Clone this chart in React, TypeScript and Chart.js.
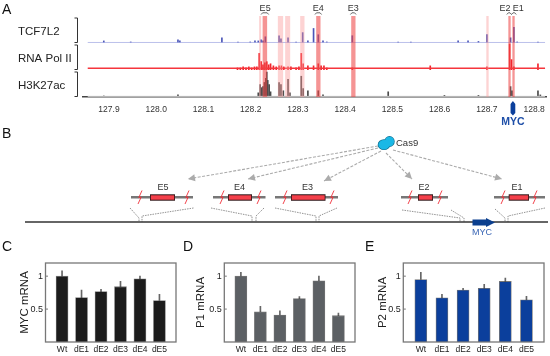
import React, { useEffect, useRef } from "react";
import { Chart, registerables } from "chart.js";

Chart.register(...registerables);

const FONT = '"Liberation Sans", Arial, sans-serif';

// ---- Panel A: genome tracks (position in Mb, signal in arbitrary units)
const genomeTicks = [127.9, 128.0, 128.1, 128.2, 128.3, 128.4, 128.5, 128.6, 128.7, 128.8];
const tcfPos = [127.889, 127.946, 128.046, 128.05, 128.139, 128.173, 128.199, 128.209, 128.216, 128.222, 128.226, 128.231, 128.26, 128.264, 128.279, 128.296, 128.31, 128.321, 128.333, 128.343, 128.353, 128.361, 128.415, 128.512, 128.539, 128.639, 128.66, 128.682, 128.7, 128.75, 128.757, 128.764, 128.808];
const tcfVal = [2, 1, 3, 2, 5, 1, 1, 2, 2, 3, 2, 6, 7, 4, 5, 1, 10, 2, 14, 8, 2, 1, 7, 1, 1, 2, 2, 1.5, 8, 5, 15, 1, 1];
const polPos = [128.172, 128.178, 128.184, 128.19, 128.196, 128.202, 128.208, 128.213, 128.218, 128.222, 128.226, 128.23, 128.234, 128.238, 128.242, 128.248, 128.254, 128.26, 128.265, 128.27, 128.279, 128.285, 128.296, 128.302, 128.307, 128.311, 128.321, 128.333, 128.343, 128.349, 128.355, 128.361, 128.415, 128.58, 128.7, 128.748, 128.752, 128.757, 128.808];
const polVal = [2, 2, 3, 2, 3, 2, 3, 3, 16, 8, 5, 7, 8, 5, 6, 4, 3, 4, 4, 3, 3, 3, 2, 3, 16, 6, 4, 4, 6, 4, 4, 2, 2, 4, 3, 25, 10, 3, 6];
const acPos = [127.889, 128.046, 128.216, 128.22, 128.223, 128.226, 128.229, 128.232, 128.234, 128.236, 128.239, 128.242, 128.26, 128.264, 128.269, 128.279, 128.283, 128.307, 128.311, 128.321, 128.343, 128.353, 128.491, 128.61, 128.682, 128.75, 128.753, 128.808, 128.813];
const acVal = [1, 2, 4, 12, 9, 10, 14, 18, 24, 16, 12, 5, 14, 12, 6, 17, 4, 20, 8, 6, 6, 2, 5, 1.5, 1.5, 10, 6, 6, 2];
const lightShades = [[128.2178, 128.222], [128.2574, 128.2686], [128.2729, 128.2835], [128.3047, 128.3138], [128.6987, 128.7036]];
const strongShades = [[128.2252, 128.2347], [128.3386, 128.3477], [128.4127, 128.4218], [128.7453, 128.7502], [128.7538, 128.7587]];
const exonNames = ["E5", "E4", "E3", "E2", "E1"];
const exonLabelPos = [128.2305, 128.343, 128.417, 128.738, 128.7665];
const exonBrackets = [[128.222, 128.238], [128.336, 128.35], [128.411, 128.423], [128.742, 128.752], [128.752, 128.762]];
const trackNames = ["TCF7L2", "RNA Pol II", "H3K27ac"];
const mycGene = [128.75, 128.76];

// ---- Panel B: schematic, in figure units
const fragmentNames = ["E5", "E4", "E3", "E2", "E1"];
const fragmentLines = [[131, 193], [213, 265.5], [275, 338], [401, 448], [494, 545]];
const fragmentBoxes = [[150, 175], [228, 252], [291, 325.5], [418, 433], [508.7, 529]];
const fragmentLabelX = [163, 239.5, 307.5, 424, 517];
const cutSites = [140, 187, 222, 259, 285, 332, 410, 440, 503, 535];
const locusLine = [[25, 222], [548, 222]];
const zoomGuides = [
  [[130, 208], [139, 218], [139, 222]], [[193.5, 208], [142, 216], [142, 222]],
  [[211, 208], [252, 216], [252, 222]], [[264, 208], [256, 216], [256, 222]],
  [[275, 208], [316, 216], [316, 222]], [[337, 208], [319, 216], [319, 222]],
  [[402, 210], [460, 218], [460, 222]], [[451, 210], [464, 218], [464, 222]],
  [[495, 209], [505, 218], [505, 222]], [[545, 208], [508, 216], [508, 222]],
];
const cas9Arrows = [
  [[378, 146], [188, 179]], [[378, 148], [248, 179]], [[381, 151], [324, 181]],
  [[386, 153], [412, 179]], [[393, 150], [502, 179]],
];

// ---- Panels C, D, E
const conditions = ["Wt", "dE1", "dE2", "dE3", "dE4", "dE5"];
const conditionSlots = [1, 2, 3, 4, 5, 6];
const yTickValues = [0.5, 1];
const mycMrna = [1.0, 0.675, 0.765, 0.84, 0.96, 0.63];
const mycTop = [1.08, 0.79, 0.8, 0.92, 1.0, 0.725];
const p1Mrna = [1.0, 0.46, 0.41, 0.66, 0.93, 0.4];
const p1Top = [1.06, 0.54, 0.475, 0.69, 1.0, 0.44];
const p2Mrna = [0.95, 0.67, 0.79, 0.815, 0.92, 0.64];
const p2Top = [1.06, 0.725, 0.815, 0.875, 0.97, 0.695];

const toXY = (xs: number[], ys: number[]) => xs.map((x, i) => ({ x, y: ys[i] }));
const toPts = (pts: number[][]) => pts.map(([x, y]) => ({ x, y }));

function hiddenAxis(extra: any) {
  return {
    display: true,
    ticks: { display: false },
    grid: { display: false, drawTicks: false },
    border: { display: false },
    ...extra,
  };
}

function createA(canvas: HTMLCanvasElement) {
  const X0 = 127.845, X1 = 128.825;
  const trackPlugin = {
    id: "tracks",
    afterDatasetsDraw(chart: any) {
      const { ctx, chartArea, scales } = chart;
      const x = scales.x;
      ctx.save();
      const shade = (list: number[][], color: string) => {
        ctx.fillStyle = color;
        list.forEach(([a, b]) => {
          const l = x.getPixelForValue(a), r = x.getPixelForValue(b);
          ctx.fillRect(l, chartArea.top, r - l, chartArea.bottom - chartArea.top);
        });
      };
      shade(lightShades, "rgba(250,150,150,0.42)");
      shade(strongShades, "rgba(238,70,70,0.58)");
      ctx.restore();
    },
    afterDraw(chart: any) {
      const { ctx, scales } = chart;
      const x = scales.x;
      ctx.save();
      // Track names and brackets
      ["tcf", "pol", "ac"].forEach((id, i) => {
        const s = scales[id];
        ctx.fillStyle = "#222";
        ctx.font = `11.5px ${FONT}`;
        ctx.textAlign = "left";
        ctx.textBaseline = "middle";
        ctx.fillText(trackNames[i], 18, (s.top + s.bottom) / 2 + 2);
        ctx.strokeStyle = "#333";
        ctx.lineWidth = 1;
        ctx.beginPath();
        ctx.moveTo(74.5, s.top + 2);
        ctx.lineTo(77.5, s.top + 2);
        ctx.lineTo(77.5, s.bottom - 0.5);
        ctx.lineTo(74.5, s.bottom - 0.5);
        ctx.stroke();
      });
      // Enhancer labels and brackets
      ctx.font = `9px ${FONT}`;
      ctx.textAlign = "center";
      ctx.fillStyle = "#333";
      exonNames.forEach((n, i) => {
        ctx.fillText(n, x.getPixelForValue(exonLabelPos[i]), 9);
        const l = x.getPixelForValue(exonBrackets[i][0]);
        const r = x.getPixelForValue(exonBrackets[i][1]);
        ctx.strokeStyle = "#444";
        ctx.lineWidth = 0.8;
        ctx.beginPath();
        ctx.moveTo(l, 14.5);
        ctx.lineTo(l + 1.5, 12.8);
        ctx.lineTo(r - 1.5, 12.8);
        ctx.lineTo(r, 14.5);
        ctx.stroke();
      });
      // MYC gene
      const gl = x.getPixelForValue(mycGene[0]), gr = x.getPixelForValue(mycGene[1]);
      ctx.fillStyle = "#0b3f9c";
      ctx.beginPath();
      ctx.moveTo((gl + gr) / 2, 101);
      ctx.lineTo(gr, 104);
      ctx.lineTo(gr, 113);
      ctx.lineTo((gl + gr) / 2, 115.5);
      ctx.lineTo(gl, 113);
      ctx.lineTo(gl, 104);
      ctx.closePath();
      ctx.fill();
      ctx.font = `bold 10.5px ${FONT}`;
      ctx.fillStyle = "#1f4fa8";
      ctx.fillText("MYC", (gl + gr) / 2, 122);
      ctx.restore();
    },
  };
  const bars = (data: any[], id: string, color: string) => ({
    type: "bar", data, yAxisID: id, backgroundColor: color, barThickness: 1, grouped: false, borderWidth: 0,
  });
  const floor = (id: string, y: number, color: string, w: number) => ({
    type: "line", data: [{ x: X0 + 0.01, y }, { x: X1 - 0.002, y }], yAxisID: id, borderColor: color, borderWidth: w, pointRadius: 0,
  });
  return new Chart(canvas, {
    type: "bar",
    data: {
      datasets: [
        floor("tcf", 0.5, "#a9b0e6", 0.8),
        bars(toXY(tcfPos, tcfVal), "tcf", "#4a55b8"),
        floor("pol", 1.6, "#f5353c", 1.5),
        bars(toXY(polPos, polVal), "pol", "#f2252c"),
        floor("ac", 0.6, "#c6c6c6", 1),
        bars(toXY(acPos, acVal), "ac", "#4a4a4a"),
      ] as any,
    },
    options: {
      animation: false, responsive: false, maintainAspectRatio: false,
      layout: { padding: { left: 83, right: 4, top: 16, bottom: 0 } },
      plugins: { legend: { display: false }, tooltip: { enabled: false } },
      scales: {
        x: {
          type: "linear", min: X0, max: X1, offset: false,
          grid: { display: false, drawTicks: false },
          border: { color: "#444", width: 1.5 },
          afterFit: (s: any) => { s.height = 31; s.paddingLeft = 0; s.paddingRight = 0; },
          afterBuildTicks: (s: any) => { s.ticks = genomeTicks.map((value) => ({ value })); },
          ticks: {
            autoSkip: false, maxRotation: 0, padding: 8, color: "#333",
            font: { size: 8.5, family: FONT },
            callback: (v: any) => Number(v).toFixed(1),
          },
        },
        ac: hiddenAxis({ stack: "tracks", stackWeight: 1, min: 0, max: 26, weight: 1 }),
        pol: hiddenAxis({ stack: "tracks", stackWeight: 1, min: 0, max: 26, weight: 2 }),
        tcf: hiddenAxis({ stack: "tracks", stackWeight: 1, min: 0, max: 26, weight: 3 }),
      } as any,
    },
    plugins: [trackPlugin],
  } as any);
}

function createB(canvas: HTMLCanvasElement) {
  const schematic = {
    id: "schematic",
    afterDraw(chart: any) {
      const { ctx, scales } = chart;
      const px = (v: number) => scales.x.getPixelForValue(v);
      const py = (v: number) => scales.y.getPixelForValue(v);
      ctx.save();
      // Labels over fragments
      ctx.font = `9px ${FONT}`;
      ctx.textAlign = "center";
      ctx.textBaseline = "middle";
      ctx.fillStyle = "#333";
      fragmentNames.forEach((n, i) => ctx.fillText(n, px(fragmentLabelX[i]), py(188)));
      // Cut sites
      ctx.strokeStyle = "#f0303a";
      ctx.lineWidth = 0.9;
      cutSites.forEach((c) => {
        ctx.beginPath();
        ctx.moveTo(px(c + 2), py(190.5));
        ctx.lineTo(px(c - 1.2), py(197.6));
        ctx.lineTo(px(c + 1.2), py(197));
        ctx.lineTo(px(c - 2), py(204));
        ctx.stroke();
      });
      // Arrow heads of the Cas9 guides
      ctx.fillStyle = "#ababab";
      cas9Arrows.forEach(([a, b]) => {
        const ang = Math.atan2(py(b[1]) - py(a[1]), px(b[0]) - px(a[0]));
        ctx.save();
        ctx.translate(px(b[0]), py(b[1]));
        ctx.rotate(ang);
        ctx.beginPath();
        ctx.moveTo(0, 0);
        ctx.lineTo(-7, 3.5);
        ctx.lineTo(-7, -3.5);
        ctx.closePath();
        ctx.fill();
        ctx.restore();
      });
      // Cas9
      const blob = () => {
        ctx.beginPath();
        ctx.ellipse(px(384), py(144.7), 5.6, 4.7, 0, 0, Math.PI * 2);
        ctx.moveTo(px(394), py(141.5));
        ctx.ellipse(px(389.5), py(141.5), 4.5, 4.8, 0, 0, Math.PI * 2);
      };
      blob();
      ctx.strokeStyle = "#0b6f92";
      ctx.lineWidth = 1.4;
      ctx.stroke();
      blob();
      ctx.fillStyle = "#1ab8e6";
      ctx.fill();
      ctx.fillStyle = "#333";
      ctx.font = `9.5px ${FONT}`;
      ctx.textAlign = "left";
      ctx.fillText("Cas9", px(396), py(143));
      // MYC arrow on the locus
      ctx.fillStyle = "#0b3f8f";
      ctx.beginPath();
      ctx.moveTo(px(472.5), py(219.5));
      ctx.lineTo(px(486), py(219.5));
      ctx.lineTo(px(486), py(218));
      ctx.lineTo(px(495), py(222.5));
      ctx.lineTo(px(486), py(227));
      ctx.lineTo(px(486), py(225.5));
      ctx.lineTo(px(472.5), py(225.5));
      ctx.closePath();
      ctx.fill();
      ctx.fillStyle = "#3a66b5";
      ctx.font = `9px ${FONT}`;
      ctx.textAlign = "center";
      ctx.fillText("MYC", px(482), py(233));
      ctx.restore();
    },
  };
  const line = (pts: number[][], color: string, w: number, dash: number[] = [], order = 5) => ({
    type: "line", data: toPts(pts), borderColor: color, borderWidth: w, borderDash: dash, pointRadius: 0, showLine: true, tension: 0, order,
  });
  const datasets: any[] = [];
  datasets.push(line(locusLine, "#333", 1.5));
  zoomGuides.forEach((g) => datasets.push(line(g, "#777", 0.8, [1.5, 1])));
  cas9Arrows.forEach((a) => datasets.push(line(a, "#ababab", 1.1, [3, 1.5])));
  fragmentLines.forEach(([a, b]) => datasets.push(line([[a, 197.3], [b, 197.3]], "#777", 2.6, [], 4)));
  fragmentBoxes.forEach(([a, b]) => {
    datasets.push(line([[a, 197.5], [b, 197.5]], "#2b1214", 6.4, [], 2));
    datasets.push(line([[a + 0.8, 197.5], [b - 0.8, 197.5]], "#f4404a", 4.4, [], 1));
  });
  return new Chart(canvas, {
    type: "scatter",
    data: { datasets },
    options: {
      animation: false, responsive: false, maintainAspectRatio: false,
      layout: { padding: 0 },
      plugins: { legend: { display: false }, tooltip: { enabled: false } },
      scales: {
        x: { type: "linear", min: 0, max: 550, display: false },
        y: { type: "linear", min: 128, max: 240, reverse: true, display: false },
      },
    },
    plugins: [schematic],
  } as any);
}

function createBars(canvas: HTMLCanvasElement, title: string, values: number[], tops: number[], color: string, left: number, titleOffset: number, slotSpan: number[]) {
  const framePlugin = {
    id: "frame",
    afterDraw(chart: any) {
      const { ctx, chartArea: a, scales } = chart;
      ctx.save();
      ctx.strokeStyle = "#777";
      ctx.lineWidth = 1.3;
      ctx.strokeRect(a.left, a.top, a.right - a.left, a.bottom - a.top);
      ctx.lineWidth = 1;
      yTickValues.forEach((v) => {
        const y = scales.y.getPixelForValue(v);
        ctx.beginPath();
        ctx.moveTo(a.left, y);
        ctx.lineTo(a.left + 2.5, y);
        ctx.stroke();
      });
      ctx.restore();
    },
  };
  return new Chart(canvas, {
    type: "bar",
    data: {
      datasets: [
        {
          data: conditionSlots.map((x, i) => ({ x, y: [values[i], tops[i]] })),
          backgroundColor: "#666", barThickness: 1, grouped: false, order: 2,
        },
        {
          data: toXY(conditionSlots, values),
          backgroundColor: color, borderColor: "rgba(60,60,60,0.7)", borderWidth: 0.8, barThickness: 12, grouped: false, order: 1,
        },
      ],
    },
    options: {
      animation: false, responsive: false, maintainAspectRatio: false,
      layout: { padding: { left: 0, right: 6, top: 23, bottom: 0 } },
      plugins: { legend: { display: false }, tooltip: { enabled: false } },
      scales: {
        x: {
          type: "linear", min: slotSpan[0], max: slotSpan[1], offset: false,
          grid: { display: false, drawTicks: false },
          border: { display: false },
          afterFit: (s: any) => { s.height = 14; },
          afterBuildTicks: (s: any) => { s.ticks = conditionSlots.map((value) => ({ value })); },
          ticks: {
            autoSkip: false, maxRotation: 0, padding: 3, color: "#222",
            font: { size: 8.5, family: FONT },
            callback: (v: any) => conditions[Number(v) - 1],
          },
        },
        y: {
          min: 0, max: 1.2,
          grid: { display: false, drawTicks: false },
          border: { display: false },
          afterFit: (s: any) => { s.width = left; },
          afterBuildTicks: (s: any) => { s.ticks = yTickValues.map((value) => ({ value })); },
          ticks: {
            padding: 2.5, color: "#222",
            font: { size: 9, family: FONT },
            callback: (v: any) => String(v),
          },
          title: {
            display: true, text: title, color: "#222",
            font: { size: 11.5, family: FONT },
            padding: { top: titleOffset, bottom: 0 },
          },
        },
      } as any,
    },
    plugins: [framePlugin],
  } as any);
}

const panelLetters = [
  { text: "A", left: 2, top: 1 },
  { text: "B", left: 2, top: 125 },
  { text: "C", left: 2, top: 238 },
  { text: "D", left: 183, top: 238 },
  { text: "E", left: 365, top: 238 },
];

const boxStyle = (l: number, t: number): React.CSSProperties => ({ position: "absolute", left: l, top: t, display: "block" });

export default function App() {
  const aRef = useRef<HTMLCanvasElement>(null);
  const bRef = useRef<HTMLCanvasElement>(null);
  const cRef = useRef<HTMLCanvasElement>(null);
  const dRef = useRef<HTMLCanvasElement>(null);
  const eRef = useRef<HTMLCanvasElement>(null);

  useEffect(() => {
    const charts = [
      createA(aRef.current!),
      createB(bRef.current!),
      createBars(cRef.current!, "MYC mRNA", mycMrna, mycTop, "#1c1c1c", 45.5, 18, [0.15, 6.85]),
      createBars(dRef.current!, "P1 mRNA", p1Mrna, p1Top, "#5c6064", 44.3, 14, [0.15, 6.85]),
      createBars(eRef.current!, "P2 mRNA", p2Mrna, p2Top, "#0b3f9c", 43.3, 16, [0.17, 6.83]),
    ];
    return () => charts.forEach((c) => c.destroy());
  }, []);

  return (
    <div style={{ position: "absolute", left: 0, top: 0, width: 550, height: 356, background: "#fff", overflow: "hidden" }}>
      <canvas ref={aRef} width={550} height={128} style={boxStyle(0, 0)} />
      <canvas ref={bRef} width={550} height={112} style={boxStyle(0, 128)} />
      <canvas ref={cRef} width={182} height={116} style={boxStyle(0, 240)} />
      <canvas ref={dRef} width={181} height={116} style={boxStyle(180, 240)} />
      <canvas ref={eRef} width={190} height={116} style={boxStyle(360, 240)} />
      {panelLetters.map((p) => (
        <div key={p.text} style={{ position: "absolute", left: p.left, top: p.top, font: `14px ${FONT}`, color: "#111", lineHeight: "16px" }}>
          {p.text}
        </div>
      ))}
    </div>
  );
}
